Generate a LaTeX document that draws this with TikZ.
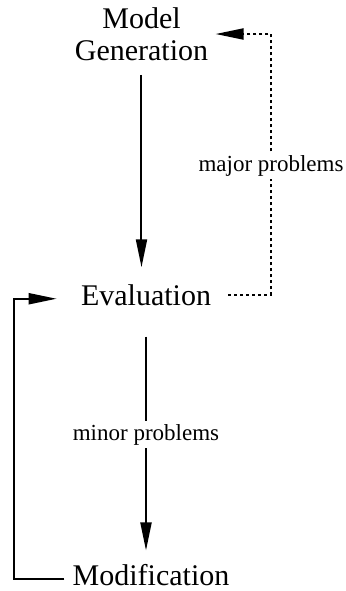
\documentclass[tikz,border=0pt]{standalone}
\usepackage{fontspec}
\setmainfont{Liberation Serif}
\usetikzlibrary{arrows.meta}
\begin{document}
\begin{tikzpicture}[x=0.5pt,y=-0.5pt,
  stage/.style={inner sep=0pt,font=\fontsize{15}{16}\selectfont,align=center},
  issue/.style={inner sep=1.5pt,fill=white,font=\fontsize{11.5}{13}\selectfont},
  >={Triangle[length=14pt,width=5.5pt]},
  link/.style={line width=1pt,->},
  dotlink/.style={line width=1pt,->,dash pattern=on 1.5pt off 1.5pt}]

\useasboundingbox (0,0) rectangle (345,591);

\node [stage] (gen) at (141.5,34) {Model\\Generation};
\node [stage,anchor=base] (eval) at (146,305) {Evaluation};
\node [stage,anchor=base] (mod) at (151,585) {Modification};

% down the chain
\draw [link,shorten <=7pt,shorten >=8.25pt]
(gen.south) --
(gen.south |- eval.north);

\draw [link,shorten <=15.5pt,shorten >=6.5pt]
(eval.south) --
node [issue] {minor problems}
(eval.south |- mod.north);

% major problems
\coordinate (back) at (271,166);
\draw [dotlink,shorten <=8.5pt,shorten >=3.5pt]
(eval.east) -|
(back) |-
(gen.east);
\node [issue] at (back) {major problems};

% modification loop
\coordinate (loop) at (14,440);
\draw [link,shorten <=4pt,shorten >=12pt]
([yshift=-2pt]mod.west) -|
(loop) |-
([yshift=-2pt]eval.west);
\end{tikzpicture}
\end{document}
